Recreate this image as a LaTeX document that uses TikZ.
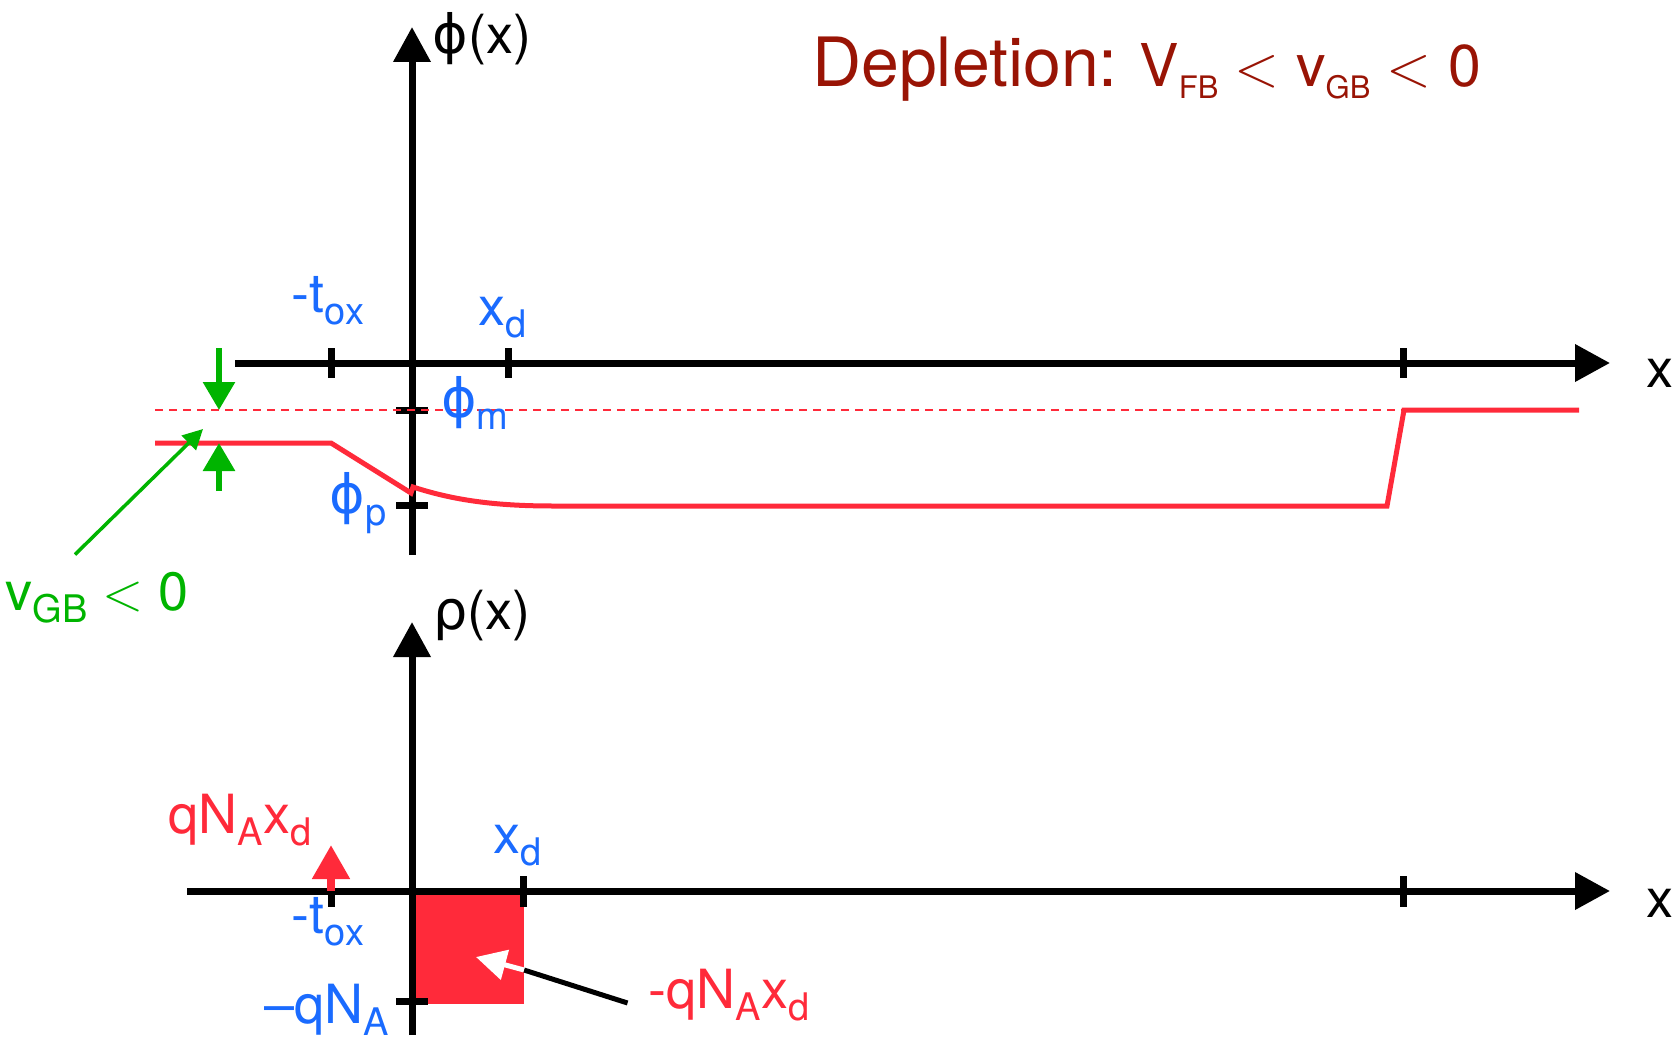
\RequirePackage{fix-cm}
\documentclass[tikz,border=0pt]{standalone}
\usepackage{amsmath}
\usepackage{fontspec}
\setmainfont{TeX Gyre Heros}
\newfontfamily\grkfont{DejaVu Sans}
\usetikzlibrary{arrows.meta}
\definecolor{lblblue}{RGB}{26,107,255}
\definecolor{curvered}{RGB}{255,42,58}
\definecolor{vgreen}{RGB}{0,180,0}
\definecolor{titlered}{RGB}{153,20,5}
\newcommand{\lsub}[2][38]{\raisebox{-12pt}{\fontsize{#1}{#1}\selectfont #2}}

\begin{document}
\begin{tikzpicture}[x=1pt,y=-1pt,
    axisline/.style={line width=7pt,-{Triangle[length=35pt,width=36pt]}},
    axtick/.style={line width=7pt},
    potline/.style={draw=curvered,line width=5pt},
    lbl/.style={font=\fontsize{54}{60}\selectfont,inner sep=0pt,anchor=base},
    bluelbl/.style={lbl,text=lblblue},
    redlbl/.style={lbl,text=curvered},
    vgbarrow/.style={draw=vgreen,line width=6pt,-{Triangle[length=28pt,width=31pt]}}]
  \useasboundingbox (0,0) rectangle (1678,1041);

  % potential
  \draw[axisline] (235,363) -- (1610,363);
  \draw[axisline] (412,555) -- (412,27);
  \foreach \x in {331,508,1403}
    \draw[axtick] (\x,348) -- (\x,378);
  \foreach \y in {410,505}
    \draw[axtick] (396,\y) -- (428,\y);
  \draw[curvered,line width=2pt,dash pattern=on 8pt off 6pt] (155,410) -- (1404,410);
  \draw[potline] (155,443) -- (331,443) -- (411,493) -- (413,487)
    .. controls (450,499) and (490,506) .. (553,506) -- (1387,506) -- (1404,410) -- (1579,410);

  \coordinate (lvl0) at (219,410);
  \coordinate (lvl1) at (219,443);
  \coordinate (gtip) at (203,429);
  \draw[vgbarrow] (219,348) -- (lvl0);
  \draw[vgbarrow] (219,491) -- (lvl1);

  \node[lbl] (phix) at (482,53) {{\grkfont ϕ}(x)};
  \node[lbl] (xlab1) at (1660,387) {x};
  \node[bluelbl] (toxa) at (328,312) {-t\lsub{ox}};
  \node[bluelbl] (xda) at (503,325) {x\lsub{d}};
  \node[bluelbl] (phim) at (475,417) {{\grkfont ϕ}\lsub{m}};
  \node[bluelbl] (phip) at (358,513) {{\grkfont ϕ}\lsub{p}};
  \node[lbl,text=vgreen] (vgb) at (97,610) {v\lsub{GB} $<$ 0};
  \draw[vgreen,line width=3.5pt,-{Triangle[length=20pt,width=20pt]}]
    ([xshift=-22pt,yshift=17pt]vgb.north) -- (gtip);

  \node[lbl,anchor=base west,font=\fontsize{59}{70}\selectfont,text=titlered] (title) at (812,86)
    {{\fontsize{68}{80}\selectfont Depletion:} V\lsub[31]{FB} $<$ v\lsub[31]{GB} $<$ 0};

  % charge
  \fill[curvered] (415,891) rectangle (524,1004);
  \draw[axisline] (187,891) -- (1610,891);
  \draw[axisline] (412,1035) -- (412,622);
  \foreach \x in {331,523,1403}
    \draw[axtick] (\x,876) -- (\x,907);
  \draw[axtick] (396,1001) -- (428,1001);
  \draw[curvered,line width=8pt,-{Triangle[length=34pt,width=36pt]}] (331,891) -- (331,845);

  \node[lbl] (rhox) at (482,629) {{\grkfont ρ}(x)};
  \node[lbl] (xlab2) at (1660,917) {x};
  \node[redlbl] (qnxd) at (240,833) {qN\lsub{A}x\lsub{d}};
  \node[bluelbl] (xdb) at (518,853) {x\lsub{d}};
  \node[bluelbl] (toxb) at (328,933) {-t\lsub{ox}};
  \node[bluelbl] (qna) at (327,1023) {--qN\lsub{A}};
  \node[redlbl] (negq) at (729,1008) {-qN\lsub{A}x\lsub{d}};

  \coordinate (wtail) at (524,970);
  \coordinate (wtip) at (476,957);
  \draw[line width=5pt] ([xshift=-21pt,yshift=5pt]negq.base west) -- (wtail);
  \draw[white,line width=5pt,-{Triangle[length=30pt,width=30pt]}] (wtail) -- (wtip);
\end{tikzpicture}
\end{document}
